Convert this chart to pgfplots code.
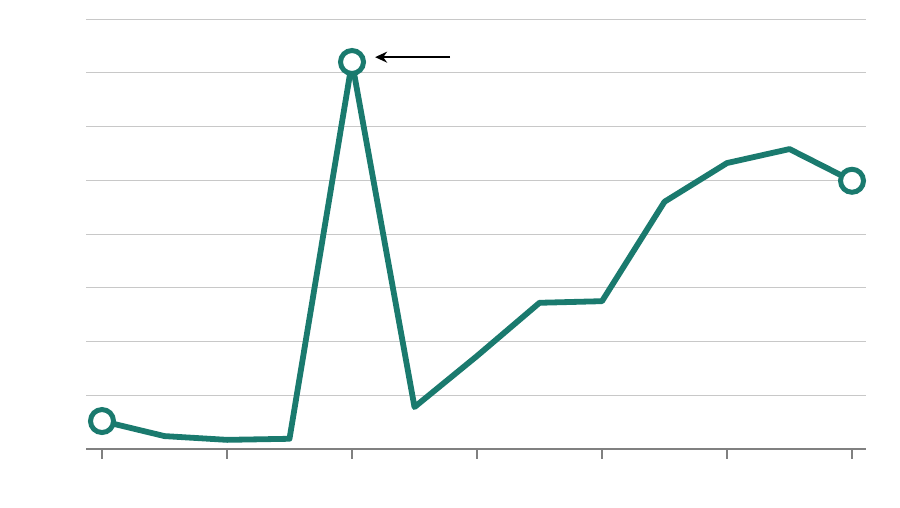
\documentclass[border=0pt]{standalone}
\usepackage{pgfplots}
\pgfplotsset{compat=1.18}
\usetikzlibrary{arrows.meta}
\definecolor{teal1}{RGB}{26,122,110}
\definecolor{gridc}{RGB}{200,200,200}
\definecolor{axc}{RGB}{128,128,128}
\begin{document}
\begin{tikzpicture}
\useasboundingbox (0,0) rectangle (900pt,508pt);
\begin{axis}[
  at={(86pt,59pt)}, anchor=south west,
  scale only axis, width=780pt, height=430pt,
  xmin=-0.256, xmax=12.224, ymin=0, ymax=8,
  axis x line*=bottom, axis y line*=left,
  separate axis lines,
  x axis line style={draw=axc, line width=2pt, -},
  y axis line style={draw=none},
  xtick={0,2,...,12}, xticklabels={},
  ytick={1,...,8}, yticklabels={},
  ymajorgrids, major grid style={draw=gridc, line width=0.9pt},
  tick align=outside, major tick length=10pt,
  x tick style={draw=axc, line width=1.5pt},
  y tick style={draw=none},
  clip=false,
]
\addplot[teal1, line width=5.8pt, line join=round, line cap=butt] coordinates {
(0,0.52) (1,0.24) (2,0.17) (3,0.19) (4,7.2) (5,0.78) (6,1.73)
(7,2.72) (8,2.75) (9,4.6) (10,5.32) (11,5.58) (12,4.99)};
\addplot[only marks, mark=*, mark size=11.5pt,
  mark options={draw=teal1, fill=white, line width=5pt}] coordinates {
(0,0.52) (4,7.2) (12,4.99)};
\draw[black, line width=1.6pt, -{Stealth[length=12pt,width=11pt]}] (axis cs:5.57,7.29) -- (axis cs:4.37,7.29);
\end{axis}
\end{tikzpicture}
\end{document}
